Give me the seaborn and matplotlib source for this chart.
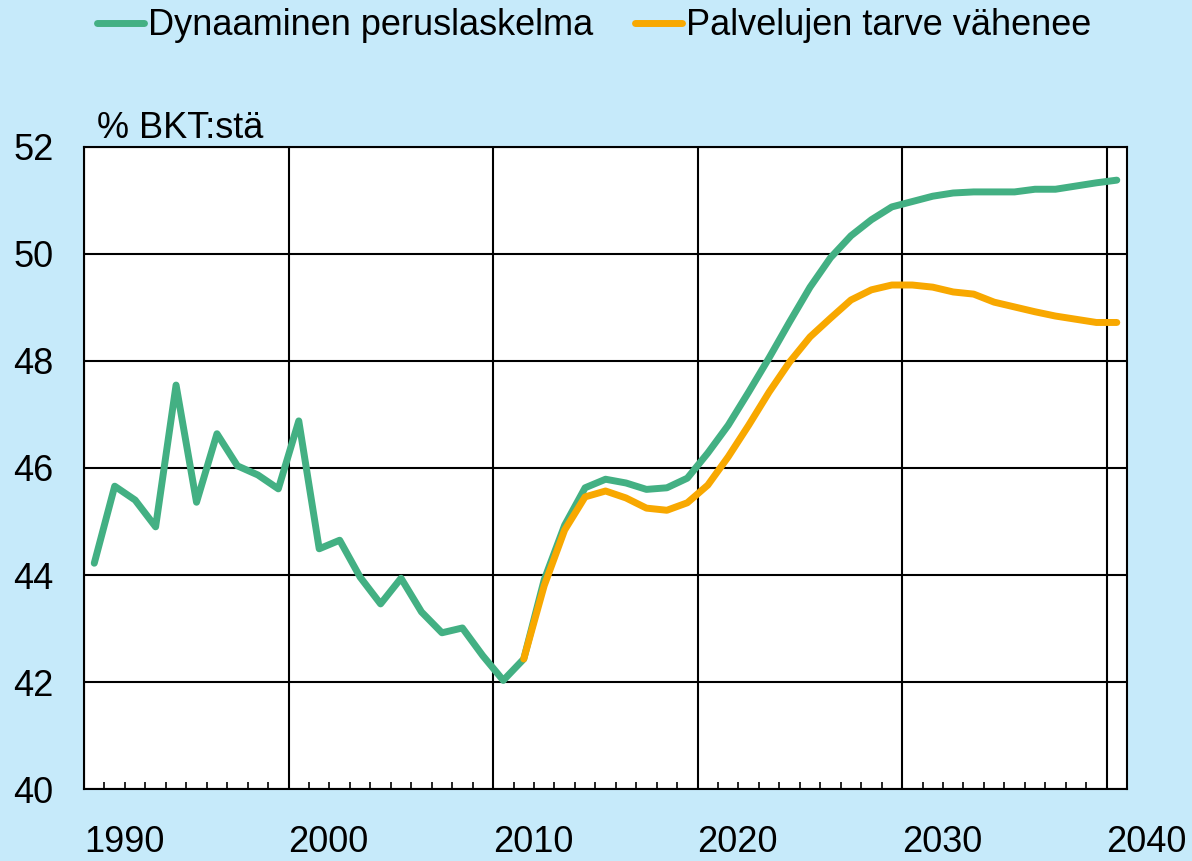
import numpy as np
import pandas as pd
import matplotlib
matplotlib.use("Agg")
import matplotlib.pyplot as plt
import seaborn as sns
from matplotlib.ticker import MultipleLocator

# data (% of GDP)
years_base = list(range(1990, 2041))
base_values = [
    44.22, 45.66, 45.40, 44.90, 47.55, 45.36, 46.64, 46.04, 45.87, 45.61,
    46.88, 44.49, 44.65, 43.96, 43.46, 43.94, 43.31, 42.92, 43.01, 42.49,
    42.03, 42.43, 43.91, 44.93, 45.63, 45.79, 45.72, 45.60, 45.63, 45.81,
    46.28, 46.80, 47.42, 48.06, 48.73, 49.38, 49.93, 50.34, 50.64, 50.88,
    50.98, 51.08, 51.14, 51.16, 51.16, 51.16, 51.21, 51.21, 51.27, 51.33,
    51.38,
]
years_alt = list(range(2011, 2041))
alt_values = [
    42.43, 43.80, 44.84, 45.46, 45.57, 45.44, 45.25, 45.21, 45.35, 45.68,
    46.21, 46.80, 47.42, 47.98, 48.45, 48.80, 49.14, 49.33, 49.42, 49.42,
    49.38, 49.29, 49.25, 49.10, 49.01, 48.92, 48.84, 48.78, 48.72, 48.72,
]
series_names = ["Dynaaminen peruslaskelma", "Palvelujen tarve vähenee"]
colors = ["#43B083", "#F8A800"]
x_ticks = [1990, 2000, 2010, 2020, 2030, 2040]
y_ticks = [40, 42, 44, 46, 48, 50, 52]

df = pd.concat([
    pd.DataFrame({"year": np.array(years_base) + 0.5, "value": base_values,
                  "series": series_names[0]}),
    pd.DataFrame({"year": np.array(years_alt) + 0.5, "value": alt_values,
                  "series": series_names[1]}),
])

sns.set_style("white")
plt.rcParams["font.family"] = ["Liberation Sans", "DejaVu Sans"]
plt.rcParams["text.color"] = "black"
plt.rcParams["xtick.labelcolor"] = "black"
plt.rcParams["ytick.labelcolor"] = "black"

FS = 26
bg = "#C6EAFA"
fig = plt.figure(figsize=(11.92, 8.61), dpi=100, facecolor=bg)
ax = fig.add_axes([0.0705, 0.0836, 0.875, 0.7457])
ax.set_facecolor("white")

sns.lineplot(data=df, x="year", y="value", hue="series", palette=colors,
             linewidth=5, ax=ax, legend=False, sort=False,
             solid_capstyle="round", solid_joinstyle="round")

ax.set_xlim(1990, 2041)
ax.set_ylim(40, 52)
ax.set_xticks(x_ticks)
ax.set_xticklabels([str(t) for t in x_ticks], ha="left")
ax.set_yticks(y_ticks)
ax.xaxis.set_minor_locator(MultipleLocator(1))
ax.grid(True, which="major", color="black", linewidth=1.5)
ax.set_axisbelow(True)
ax.tick_params(axis="x", which="minor", direction="in", length=5,
               width=1.2, color="black", bottom=True)
ax.tick_params(axis="x", which="major", length=0, pad=26, labelsize=FS)
ax.tick_params(axis="y", length=0, pad=22, labelsize=FS)
for s in ax.spines.values():
    s.set_color("black")
    s.set_linewidth(1.5)
ax.set_xlabel("")
ax.set_ylabel("")

fig.text(0.0815, 0.851, "% BKT:stä", fontsize=FS, ha="left", va="center")

handles = [plt.Line2D([], [], color=c, linewidth=5, solid_capstyle="round")
           for c in colors]
fig.legend(handles, series_names, loc="center left",
           bbox_to_anchor=(0.0814, 0.970), ncol=2, frameon=False,
           fontsize=FS, handlelength=1.3, handletextpad=0.12,
           columnspacing=1.15, borderpad=0, borderaxespad=0)

fig.savefig("out.png", dpi=100, facecolor=bg)
